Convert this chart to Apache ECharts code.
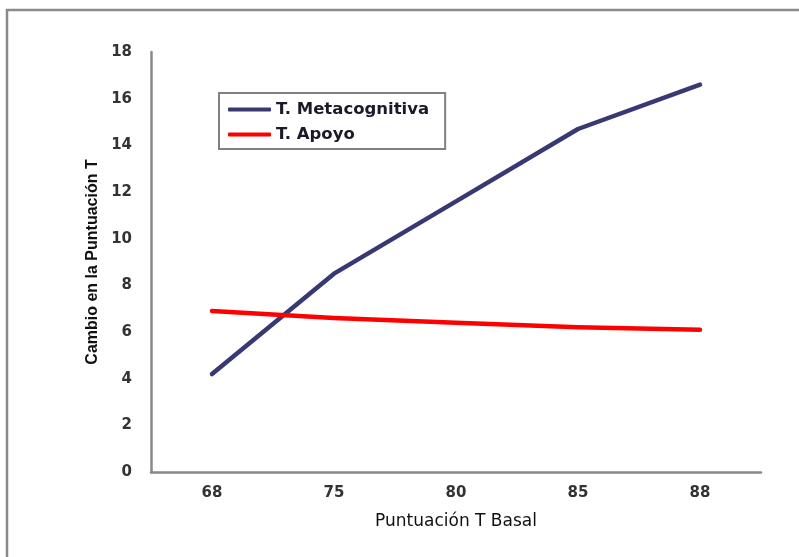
<!DOCTYPE html>
<html>
<head>
<meta charset="utf-8">
<script src="https://cdn.jsdelivr.net/npm/echarts@6/dist/echarts.min.js"></script>
<style>
html,body{margin:0;padding:0;background:#fff;}
#c{width:799px;height:557px;}
</style>
</head>
<body>
<div id="c"></div>
<script>
var categories = ['68', '75', '80', '85', '88'];
var metacognitiva = [4.2, 8.5, 11.6, 14.7, 16.6];
var apoyo = [6.9, 6.6, 6.4, 6.2, 6.1];
var yTicks = {min: 0, max: 18, interval: 2};

var chart = echarts.init(document.getElementById('c'), null, {renderer: 'canvas'});
chart.setOption({
  animation: false,
  backgroundColor: '#ffffff',
  graphic: [{
    type: 'rect',
    shape: {x: 7, y: 10, width: 830, height: 600},
    style: {fill: 'none', stroke: '#8a8a8a', lineWidth: 2.5},
    silent: true
  }],
  grid: {left: 151, right: 38, top: 52, bottom: 85, containLabel: false},
  legend: {
    orient: 'vertical',
    left: 219,
    top: 93,
    padding: [8, 16, 6, 9],
    itemGap: 8,
    itemWidth: 43,
    itemHeight: 4,
    icon: 'roundRect',
    borderColor: '#808080',
    borderWidth: 2,
    backgroundColor: '#ffffff',
    textStyle: {fontFamily: 'DejaVu Sans', fontWeight: 'bold', fontSize: 16.5, color: '#1a1a2a'},
    data: ['T. Metacognitiva', 'T. Apoyo']
  },
  xAxis: {
    type: 'category',
    data: categories,
    boundaryGap: true,
    name: 'Puntuación T Basal',
    nameLocation: 'middle',
    nameGap: 41,
    nameTextStyle: {fontFamily: 'DejaVu Sans', fontSize: 17, color: '#111'},
    axisLine: {lineStyle: {color: '#888888', width: 2.5}},
    axisTick: {show: false},
    axisLabel: {margin: 14, fontFamily: 'DejaVu Sans', fontWeight: 'bold', fontSize: 15, color: '#333'},
    splitLine: {show: false}
  },
  yAxis: {
    type: 'value',
    min: yTicks.min,
    max: yTicks.max,
    interval: yTicks.interval,
    name: 'Cambio en la Puntuación T',
    nameLocation: 'middle',
    nameGap: 43,
    nameTextStyle: {fontFamily: "'Liberation Sans', Arial, sans-serif", fontWeight: 'bold', fontSize: 16, color: '#111'},
    axisLine: {show: true, lineStyle: {color: '#888888', width: 2.5}},
    axisTick: {show: false},
    axisLabel: {margin: 19, fontFamily: 'DejaVu Sans', fontWeight: 'bold', fontSize: 15, color: '#333'},
    splitLine: {show: false}
  },
  series: [
    {
      name: 'T. Metacognitiva',
      type: 'line',
      data: metacognitiva,
      symbol: 'none',
      itemStyle: {color: '#383873'},
      lineStyle: {color: '#383873', width: 4.5, cap: 'round', join: 'round'}
    },
    {
      name: 'T. Apoyo',
      type: 'line',
      data: apoyo,
      symbol: 'none',
      itemStyle: {color: '#ff0000'},
      lineStyle: {color: '#ff0000', width: 4.5, cap: 'round', join: 'round'}
    }
  ]
});
</script>
</body>
</html>
